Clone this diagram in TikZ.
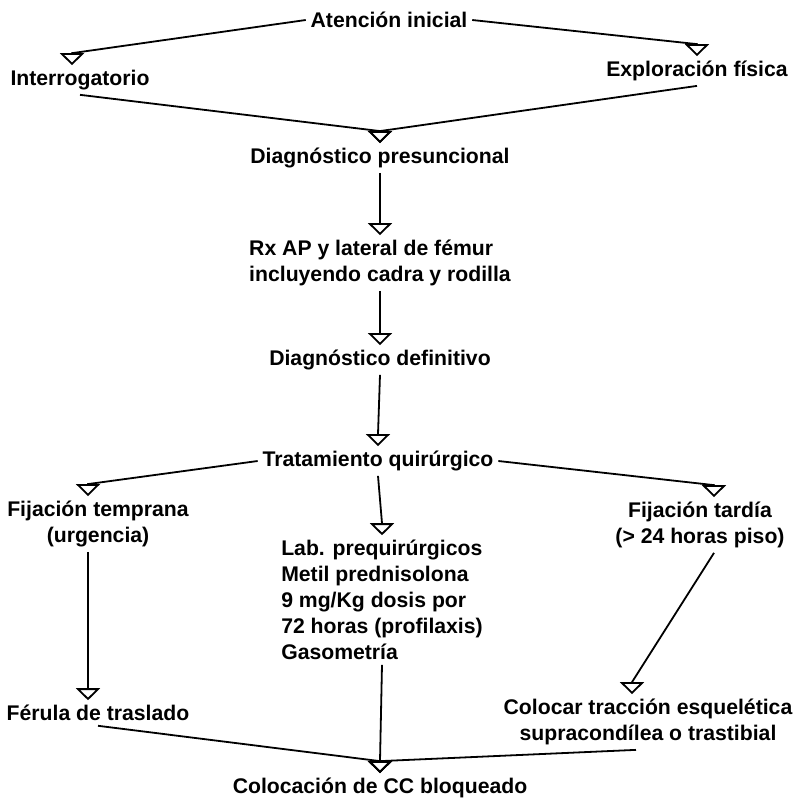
\documentclass[tikz,border=0pt]{standalone}
\usepackage{fontspec}
\setmainfont{Liberation Sans}
\usetikzlibrary{arrows.meta}

\begin{document}
\begin{tikzpicture}[x=0.5pt,y=-0.5pt,>={Triangle[open,width=12pt,length=6pt]},
  line width=0.9pt,auto,
  box/.style={inner sep=2pt,font=\fontsize{10.6}{13}\selectfont\bfseries,align=center},
  lbox/.style={box,align=left},
  down/.style={to path={-- ([yshift=6pt]\tikztotarget) -- (\tikztotarget)}}]
  \useasboundingbox (0,0) rectangle (801,804);
  \node[box] (1) at (389,20) {Atención inicial};
  \node[box] (2) at (80,80) {Interrogatorio};
  \node[box] (3) at (697,71) {Exploración física};
  \node[box] (4) at (380,158) {Diagnóstico presuncional};
  \node[lbox] (5) at (380,263) {Rx AP y lateral de fémur\\incluyendo cadra y rodilla};
  \node[box] (6) at (380,360) {Diagnóstico definitivo};
  \node[box] (7) at (378,461) {Tratamiento quirúrgico};
  \node[box] (8) at (98,524) {Fijación temprana\\(urgencia)};
  \node[lbox] (9) at (382,600) {Lab. prequirúrgicos\\Metil prednisolona\\9 mg/Kg dosis por\\72 horas (profilaxis)\\Gasometría};
  \node[box] (10) at (700,525) {Fijación tardía\\(> 24 horas piso)};
  \node[box] (11) at (98,713) {Férula de traslado};
  \node[box] (12) at (648,722) {Colocar tracción esquelética\\supracondílea o trastibial};
  \node[box] (13) at (380,788) {Colocación de CC bloqueado};
  % shifted ends
  \coordinate (2t) at ([xshift=-4pt]2.north);
  \coordinate (8t) at ([xshift=-5pt]8.north);
  \coordinate (8b) at ([xshift=-5pt]8.south);
  \coordinate (11t) at ([xshift=-5pt]11.north);
  \coordinate (10t) at ([xshift=7pt]10.north);
  \coordinate (10b) at ([xshift=7pt]10.south);
  \coordinate (12t) at ([xshift=-8pt]12.north);
  \coordinate (12b) at ([xshift=-6pt]12.south);
  \path[->,every edge/.append style={down}]
    (1.west) edge (2t)
    (1.east) edge (3.north)
    (2.south) edge (4.north)
    (3.south) edge (4.north)
    (4.south) edge (5.north)
    (5.south) edge (6.north)
    (6.south) edge (7.north)
    (7.west) edge (8t)
    (7.east) edge (10t)
    (7.south) edge (9.north)
    (8b) edge (11t)
    (10b) edge (12t)
    (9.south) edge (13.north)
    (11.south) edge (13.north)
    (12b) edge (13.north);
\end{tikzpicture}
\end{document}
